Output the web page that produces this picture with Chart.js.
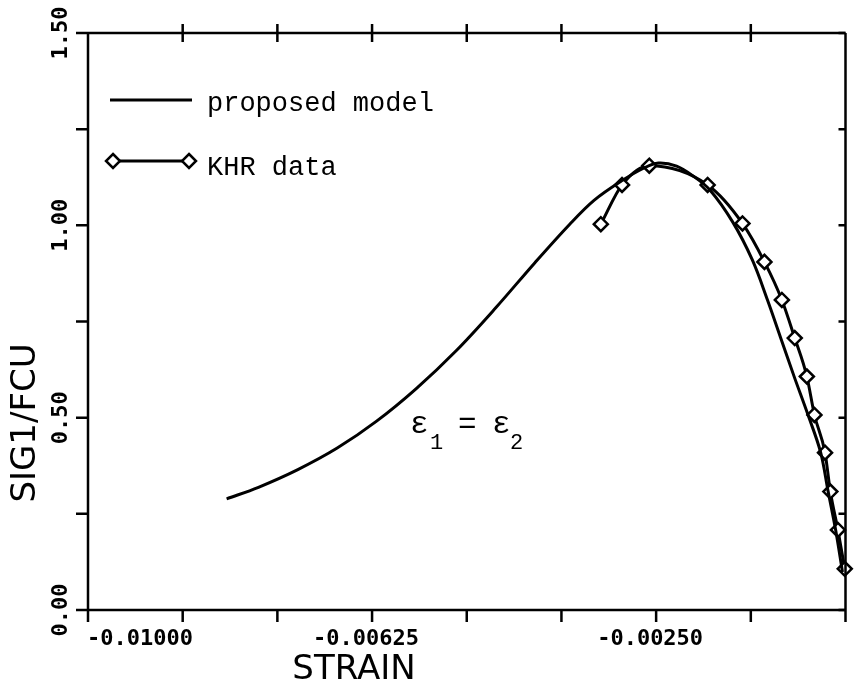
<!DOCTYPE html>
<html>
<head>
<meta charset="utf-8">
<script src="https://cdn.jsdelivr.net/npm/chart.js@4.4.1/dist/chart.umd.min.js"></script>
<style>
  html, body { margin: 0; padding: 0; background: #fff; }
  #wrap { width: 855px; height: 690px; }
</style>
</head>
<body>
<div id="wrap"><canvas id="strainChart" width="855" height="690"></canvas></div>
<script>
// proposed model curve (eps1 = eps2)
const modelStrain = [-0.00817, -0.00775, -0.00723, -0.00671, -0.00619, -0.00567, -0.00514, -0.00462, -0.00410, -0.00364,
  -0.00332, -0.00296, -0.00266, -0.00247, -0.00223, -0.00201, -0.00179, -0.00149, -0.00123, -0.00103,
  -0.00086, -0.00068, -0.00050, -0.00033, -0.00023, -0.00013, -0.00004];
const modelStress = [0.289, 0.319, 0.365, 0.421, 0.491, 0.575, 0.674, 0.785, 0.903, 1.003,
  1.065, 1.115, 1.149, 1.162, 1.154, 1.128, 1.092, 1.009, 0.910, 0.806,
  0.710, 0.608, 0.510, 0.411, 0.309, 0.208, 0.099];

// KHR test data
const khrStrain = [-0.00323, -0.00295, -0.00259, -0.00182, -0.00136, -0.00107, -0.00084, -0.00067, -0.00051, -0.00041,
  -0.00027, -0.00020, -0.00010, -0.00001];
const khrStress = [1.003, 1.105, 1.155, 1.105, 1.005, 0.905, 0.806, 0.707, 0.607, 0.507,
  0.409, 0.308, 0.208, 0.107];

const xTicks = [-0.01, -0.00875, -0.0075, -0.00625, -0.005, -0.00375, -0.0025, -0.00125, 0];
const xTickLabels = ["-0.01000", "", "", "-0.00625", "", "", "-0.00250", "", ""];
const yTicks = [0, 0.25, 0.5, 0.75, 1.0, 1.25, 1.5];
const yTickLabels = ["0.00", "", "0.50", "", "1.00", "", "1.50"];

const toPoints = (xs, ys) => xs.map((x, i) => ({ x: x, y: ys[i] }));

function drawDiamond(ctx, x, y, r) {
  ctx.beginPath();
  ctx.moveTo(x, y - r);
  ctx.lineTo(x + r, y);
  ctx.lineTo(x, y + r);
  ctx.lineTo(x - r, y);
  ctx.closePath();
  ctx.fillStyle = "#fff";
  ctx.fill();
  ctx.stroke();
}

// axes frame, ticks, labels and legend drawn from the scales
const plotFrame = {
  id: "plotFrame",
  afterDraw(chart) {
    const { ctx, chartArea: { top, bottom, left, right } } = chart;
    const xs = chart.scales.x;
    const ys = chart.scales.y;
    ctx.save();
    ctx.strokeStyle = "#000";
    ctx.lineWidth = 2.5;
    ctx.lineCap = "butt";

    ctx.beginPath();
    ctx.moveTo(left, top); ctx.lineTo(right, top);
    ctx.moveTo(left, bottom); ctx.lineTo(right, bottom);
    ctx.moveTo(left, top); ctx.lineTo(left, bottom);
    ctx.moveTo(right, top); ctx.lineTo(right, bottom);
    ctx.stroke();

    ctx.beginPath();
    xTicks.forEach((v) => {
      const px = xs.getPixelForValue(v);
      ctx.moveTo(px, bottom); ctx.lineTo(px, bottom + 12);
      if (v > xs.min && v < xs.max) {
        ctx.moveTo(px, top - 9); ctx.lineTo(px, top + 9);
      }
    });
    yTicks.forEach((v) => {
      const py = ys.getPixelForValue(v);
      ctx.moveTo(left - 12, py); ctx.lineTo(left, py);
      ctx.moveTo(right - 7, py); ctx.lineTo(right, py);
    });
    ctx.stroke();

    ctx.fillStyle = "#000";
    ctx.font = "bold 22px 'DejaVu Sans Mono'";
    ctx.textBaseline = "middle";
    xTicks.forEach((v, i) => {
      if (!xTickLabels[i]) return;
      const px = xs.getPixelForValue(v);
      if (i === 0) {
        ctx.textAlign = "left";
        ctx.fillText(xTickLabels[i], px - 1, bottom + 29);
      } else {
        ctx.textAlign = "center";
        ctx.fillText(xTickLabels[i], px - 6, bottom + 29);
      }
    });

    ctx.font = "bold 22px 'DejaVu Sans Mono'";
    ctx.textAlign = "center";
    yTicks.forEach((v, i) => {
      if (!yTickLabels[i]) return;
      const py = ys.getPixelForValue(v);
      ctx.save();
      ctx.translate(61, py);
      ctx.rotate(-Math.PI / 2);
      ctx.fillText(yTickLabels[i], 0, 0);
      ctx.restore();
    });

    // axis titles
    ctx.font = "34px 'DejaVu Sans'";
    ctx.fillText("STRAIN", 354, 670);
    ctx.save();
    ctx.translate(26, 423);
    ctx.rotate(-Math.PI / 2);
    ctx.fillText("SIG1/FCU", 0, 0);
    ctx.restore();

    // legend
    ctx.lineWidth = 3;
    ctx.beginPath();
    ctx.moveTo(110, 100); ctx.lineTo(192, 100);
    ctx.moveTo(113, 161); ctx.lineTo(189, 161);
    ctx.stroke();
    ctx.lineWidth = 2.5;
    drawDiamond(ctx, 113, 161, 7);
    drawDiamond(ctx, 189, 161, 7);

    ctx.fillStyle = "#000";
    ctx.font = "27px 'Liberation Mono'";
    ctx.textAlign = "left";
    ctx.textBaseline = "alphabetic";
    ctx.fillText("proposed model", 207, 111);
    ctx.fillText("KHR data", 207, 175);

    // annotation
    ctx.font = "31px 'Liberation Mono'";
    ctx.fillText("\u03b5", 410, 433);
    ctx.fillText("=", 458, 433);
    ctx.fillText("\u03b5", 492, 433);
    ctx.font = "22px 'Liberation Mono'";
    ctx.fillText("1", 430, 449);
    ctx.fillText("2", 510, 449);
    ctx.restore();
  }
};

const config = {
  type: "scatter",
  data: {
    datasets: [
      {
        label: "proposed model",
        data: toPoints(modelStrain, modelStress),
        showLine: true,
        borderColor: "#000",
        borderWidth: 3,
        pointRadius: 0,
        tension: 0.35
      },
      {
        label: "KHR data",
        data: toPoints(khrStrain, khrStress),
        showLine: true,
        borderColor: "#000",
        borderWidth: 3,
        cubicInterpolationMode: "monotone",
        pointStyle: "rectRot",
        pointRadius: 7,
        pointBorderWidth: 2.5,
        pointBackgroundColor: "#fff",
        pointBorderColor: "#000"
      }
    ]
  },
  options: {
    responsive: false,
    animation: false,
    devicePixelRatio: 1,
    clip: false,
    layout: { padding: { left: 88, top: 33, right: 1, bottom: 80 } },
    scales: {
      x: { type: "linear", min: -0.01, max: 0, display: false },
      y: { type: "linear", min: 0, max: 1.5, display: false }
    },
    plugins: {
      legend: { display: false },
      tooltip: { enabled: false }
    }
  },
  plugins: [plotFrame]
};

new Chart(document.getElementById("strainChart"), config);
</script>
</body>
</html>
